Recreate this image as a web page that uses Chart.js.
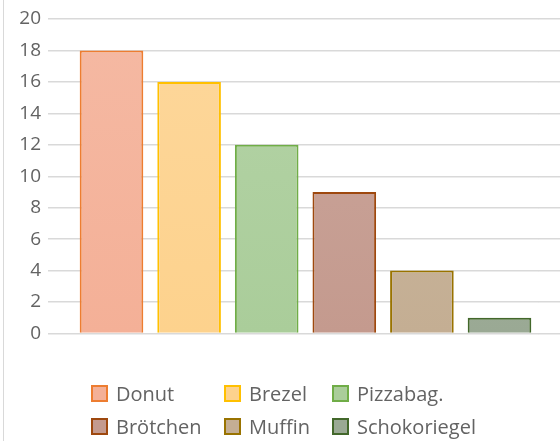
<!DOCTYPE html>
<html>
<head>
<meta charset="utf-8">
<script src="https://cdn.jsdelivr.net/npm/chart.js@4"></script>
<style>
  html, body { margin: 0; padding: 0; background: #fff; }
  #wrap { position: relative; width: 560px; height: 441px; overflow: hidden; }
  #frame { position: absolute; left: 3px; top: 0; width: 1px; height: 441px; background: #d9d9d9; }
  #myLegend { position: absolute; left: 0; top: 0; width: 560px; height: 441px; pointer-events: none;
    font-family: "Open Sans", sans-serif; font-size: 20px; color: #636363; }
  .item { position: absolute; display: flex; align-items: center; height: 25px; white-space: nowrap; }
  .box { width: 13px; height: 13px; border: 2px solid; margin-right: 8px; }
</style>
</head>
<body>
<div id="wrap">
  <div id="frame"></div>
  <canvas id="myChart" width="560" height="441"></canvas>
  <div id="myLegend"></div>
</div>
<script>
const categories = ['Donut', 'Brezel', 'Pizzabag.', 'Brötchen', 'Muffin', 'Schokoriegel'];
const values = [18, 16, 12, 9, 4, 1];
const yTicks = [0, 2, 4, 6, 8, 10, 12, 14, 16, 18, 20];
const lineColors = ['#ed7d31', '#ffc000', '#70ad47', '#9e480e', '#997300', '#43682b'];
const fillColors = ['#f4b097', '#fdd28d', '#aacd9a', '#c49a8e', '#c4ae93', '#9aa994'];

// blend a colour with white, t = share of white
const lighten = (hex, t) => {
    const n = parseInt(hex.slice(1), 16);
    const ch = [n >> 16, (n >> 8) & 255, n & 255].map(v => Math.round(v + (255 - v) * t));
    return 'rgb(' + ch.join(',') + ')';
};

// legend laid out in columns like the original
const legendCols = [91, 224, 332];
const legendRows = [381, 414];
const myLegend = document.getElementById('myLegend');
categories.forEach((name, i) => {
    const item = document.createElement('div');
    item.className = 'item';
    item.style.left = legendCols[i % 3] + 'px';
    item.style.top = legendRows[Math.floor(i / 3)] + 'px';
    const box = document.createElement('span');
    box.className = 'box';
    box.style.borderColor = lineColors[i];
    box.style.background = fillColors[i];
    const txt = document.createElement('span');
    txt.textContent = name;
    item.appendChild(box);
    item.appendChild(txt);
    myLegend.appendChild(item);
});

const ctx = document.getElementById('myChart').getContext('2d');

const barFill = (c) => {
    const area = c.chart.chartArea;
    const col = fillColors[c.dataIndex];
    if (!area) return col;
    const g = c.chart.ctx.createLinearGradient(0, area.top, 0, area.bottom);
    g.addColorStop(0, lighten(col, 0.12));
    g.addColorStop(1, col);
    return g;
};

const gridColor = '#d9d9d9';

new Chart(ctx, {
    type: 'bar',
    data: {
        labels: categories,
        datasets: [{
            data: values,
            backgroundColor: barFill,
            borderColor: lineColors,
            borderWidth: 2,
            barPercentage: 0.82,
            categoryPercentage: 1
        }]
    },
    options: {
        responsive: false,
        animation: false,
        layout: { padding: { left: 0, right: 0, top: 19, bottom: 107.5 } },
        plugins: { legend: { display: false }, tooltip: { enabled: false } },
        scales: {
            x: { display: false, offset: true },
            y: {
                min: 0, max: 20,
                afterBuildTicks: (s) => { s.ticks = yTicks.map(v => ({ value: v })); },
                afterFit: (s) => { s.width = 72.7; },
                border: { display: false },
                grid: { color: gridColor, lineWidth: 1.5, drawTicks: true, tickLength: 24.7 },
                ticks: {
                    padding: 7,
                    color: '#636363',
                    font: { family: 'Open Sans', size: 19 }
                }
            },
            y2: {
                position: 'right',
                min: 0, max: 20,
                afterBuildTicks: (s) => { s.ticks = yTicks.map(v => ({ value: v })); },
                afterFit: (s) => { s.width = 21.7; },
                border: { display: false },
                grid: { color: gridColor, lineWidth: 1.5, drawOnChartArea: false, drawTicks: true, tickLength: 21.7 },
                ticks: { display: false }
            }
        }
    }
});
</script>
</body>
</html>
